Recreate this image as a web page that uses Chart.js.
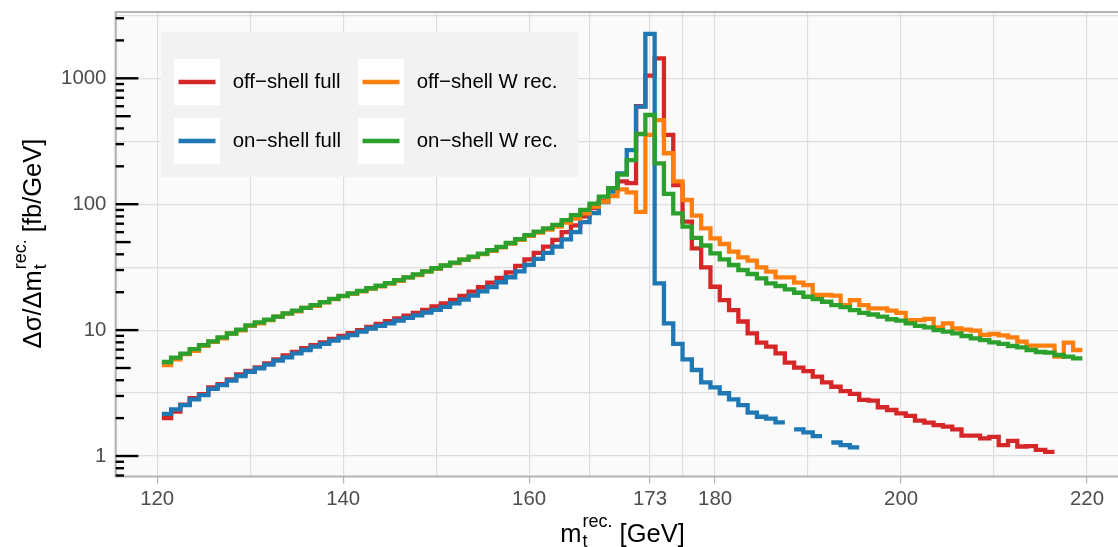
<!DOCTYPE html>
<html>
<head>
<meta charset="utf-8">
<script src="https://cdn.jsdelivr.net/npm/chart.js@4.4.1/dist/chart.umd.min.js"></script>
<style>
  html, body { margin: 0; padding: 0; background: #ffffff; }
  canvas { display: block; }
</style>
</head>
<body>
<canvas id="myChart" width="1118" height="547"></canvas>
<script>
// Bin centres of the m_t^rec. histogram (1 GeV bins, 121 ... 219)
const massBins = Array.from({ length: 99 }, (_, i) => 121 + i);
const BIN_HALF = 0.5;

// Axis limits and breaks
const X_MIN = 115.54;
const X_MAX = 223.33;
const Y_MIN = 0.6874;
const Y_MAX = 3362;
const xMajor = [120, 140, 160, 173, 180, 200, 220];
const xMinor = [130, 150, 166.5, 176.5, 190, 210];
const yMajor = [1, 10, 100, 1000];
const yMinor = [3.1623, 31.623, 316.23, 3162.3];

const seriesNames = ["off\u2212shell full", "on\u2212shell full", "off\u2212shell W rec.", "on\u2212shell W rec."];
const seriesColors = ["#d62728", "#1f77b4", "#ff7f0e", "#2ca02c"];

// dsigma/dm [fb/GeV], one value per bin (null = empty bin)
const offShellFull = [
  2.0, 2.25, 2.56, 2.88, 3.1, 3.5, 3.72, 4.05, 4.45, 4.75,
  5.05, 5.45, 5.85, 6.3, 6.7, 7.2, 7.6, 8.0, 8.5, 9.0,
  9.45, 10.0, 10.6, 11.2, 11.8, 12.4, 13.0, 13.7, 14.5, 15.4,
  16.3, 17.4, 18.7, 20.2, 21.9, 23.8, 26.0, 28.7, 32.4, 36.5,
  41, 46, 52, 60, 68, 80, 93, 106, 128, 152,
  147, 600, 1050, 1440, 355, 142, 72.6, 44.6, 31.5, 22.1,
  17.3, 14.4, 11.7, 9.42, 7.94, 7.38, 6.53, 5.51, 5.03, 4.73,
  4.27, 3.85, 3.55, 3.28, 3.11, 2.79, 2.75, 2.44, 2.32, 2.18,
  2.08, 1.91, 1.84, 1.76, 1.71, 1.63, 1.45, 1.45, 1.38, 1.42,
  1.22, 1.32, 1.19, 1.2, 1.12, 1.08, null, null, null
];
const onShellFull = [
  2.16, 2.35, 2.54, 2.82, 3.05, 3.41, 3.66, 3.97, 4.32, 4.67,
  4.97, 5.31, 5.72, 6.08, 6.54, 6.95, 7.38, 7.76, 8.24, 8.7,
  9.14, 9.72, 10.3, 10.8, 11.3, 11.9, 12.5, 13.1, 13.8, 14.5,
  15.3, 16.3, 17.5, 18.8, 20.3, 22.0, 24.0, 26.3, 29.3, 33.0,
  36.8, 41.0, 46.0, 52.5, 60.0, 72, 85, 104, 126, 176,
  269, 595, 2250, 23.5, 11.3, 7.76, 5.86, 4.82, 3.85, 3.51,
  3.15, 2.82, 2.54, 2.21, 2.05, 1.98, 1.85, null, 1.63, 1.54,
  1.44, null, 1.28, 1.22, 1.17, null, null, null, null, null,
  null, null, null, null, null, null, null, null, null, null,
  null, null, null, null, null, null, null, null, null
];
const offShellWrec = [
  5.28, 5.85, 6.45, 6.85, 7.5, 8.05, 8.6, 9.4, 9.95, 10.8,
  11.3, 12.0, 12.8, 13.5, 14.1, 15.0, 15.6, 16.6, 17.6, 18.6,
  19.4, 20.3, 21.4, 22.3, 23.4, 24.6, 26.2, 27.4, 29.2, 30.6,
  32.5, 34.0, 36.2, 38.0, 40.2, 42.7, 45.5, 48.6, 52.2, 56.0,
  59.5, 62.8, 66.5, 71.5, 77, 84.6, 95.6, 105, 116, 131,
  124, 87, 355, 466, 254, 152, 108, 81, 64.3, 53.5,
  48.3, 42.0, 37.8, 35.6, 31.5, 29.1, 26.2, 26.2, 23.8, 22.8,
  19.0, 19.0, 18.8, 15.8, 17.3, 15.8, 14.9, 14.9, 14.3, 13.7,
  12.0, 12.0, 12.3, 10.5, 11.3, 10.3, 10.1, 9.9, 9.14, 9.31,
  9.08, 8.76, 8.09, 7.52, 7.52, 7.52, 6.15, 7.94, 6.95
];
const onShellWrec = [
  5.58, 6.05, 6.5, 7.05, 7.6, 8.15, 8.75, 9.4, 10.1, 10.9,
  11.5, 12.1, 12.8, 13.6, 14.3, 15.0, 15.8, 16.7, 17.7, 18.7,
  19.6, 20.5, 21.5, 22.5, 23.6, 24.9, 26.2, 27.7, 29.3, 31.0,
  32.6, 34.3, 36.3, 38.3, 40.5, 43.2, 45.8, 49.2, 52.8, 56.9,
  60.5, 64.2, 68.4, 74.8, 82, 90, 101, 115, 134, 172,
  224, 361, 511, 211, 121, 84.6, 66.3, 54.0, 47.0, 40.7,
  36.5, 32.9, 30.0, 27.9, 25.8, 23.5, 22.4, 21.1, 19.8, 18.4,
  17.6, 16.8, 15.8, 15.2, 14.4, 13.7, 13.3, 12.8, 12.2, 11.9,
  11.3, 10.8, 10.5, 10.0, 9.72, 9.43, 8.98, 8.6, 8.34, 8.0,
  7.76, 7.48, 7.3, 6.95, 6.7, 6.62, 6.34, 6.15, 5.97
];

const FONT = "'Liberation Sans', Arial, sans-serif";

// Turn bin values into a step outline: left and right edge of every bin
function stepPoints(values) {
  const pts = [];
  massBins.forEach((m, i) => {
    const v = values[i];
    pts.push({ x: m - BIN_HALF, y: v });
    pts.push({ x: m + BIN_HALF, y: v });
  });
  return pts;
}

function makeDataset(idx, values, order) {
  return {
    label: seriesNames[idx],
    data: stepPoints(values),
    borderColor: seriesColors[idx],
    backgroundColor: seriesColors[idx],
    borderWidth: 4.3,
    pointRadius: 0,
    tension: 0,
    spanGaps: false,
    fill: false,
    order: order
  };
}

// Title with stacked sub/superscript (m_t^rec.)
function drawMassTitle(ctx, cx, baseline, angle, head, tail) {
  const big = "25.5px " + FONT;
  const small = "18px " + FONT;
  ctx.save();
  ctx.translate(cx, baseline);
  ctx.rotate(angle);
  ctx.fillStyle = "#000000";
  ctx.textAlign = "left";
  ctx.textBaseline = "alphabetic";
  ctx.font = big;
  const wHead = ctx.measureText(head).width;
  const wTail = ctx.measureText(tail).width;
  ctx.font = small;
  const wScript = Math.max(ctx.measureText("rec.").width, ctx.measureText("t").width);
  let x = -(wHead + wScript + wTail) / 2;
  ctx.font = big;
  ctx.fillText(head, x, 0);
  x += wHead;
  ctx.font = small;
  ctx.fillText("rec.", x + 1, -15);
  ctx.fillText("t", x + 1, 5);
  x += wScript + 1;
  ctx.font = big;
  ctx.fillText(tail, x, 0);
  ctx.restore();
}

function drawLegend(chart) {
  const ctx = chart.ctx;
  const keyX = [174, 358];
  const keyY = [59, 118];
  const KEY = 46;
  ctx.save();
  ctx.fillStyle = "#f2f2f2";
  ctx.fillRect(161, 32, 417, 145);
  ctx.font = "20.4px " + FONT;
  ctx.textBaseline = "middle";
  ctx.textAlign = "left";
  seriesNames.forEach((name, i) => {
    const kx = keyX[Math.floor(i / 2)];
    const ky = keyY[i % 2];
    ctx.fillStyle = "#ffffff";
    ctx.fillRect(kx, ky, KEY, KEY);
    ctx.strokeStyle = seriesColors[i];
    ctx.lineWidth = 4.3;
    ctx.beginPath();
    ctx.moveTo(kx + 4.5, ky + KEY / 2);
    ctx.lineTo(kx + KEY - 4.5, ky + KEY / 2);
    ctx.stroke();
    ctx.fillStyle = "#000000";
    ctx.fillText(name, kx + 58.7, ky + KEY / 2);
  });
  ctx.restore();
}

const panelDecor = {
  id: "panelDecor",
  beforeDraw(chart) {
    const { ctx, chartArea: a } = chart;
    ctx.save();
    ctx.fillStyle = "#ffffff";
    ctx.fillRect(0, 0, chart.width, chart.height);
    ctx.fillStyle = "#fafafa";
    ctx.fillRect(a.left, a.top, a.right - a.left, a.bottom - a.top);
    ctx.restore();
  },
  afterDatasetsDraw(chart) {
    const { ctx, chartArea: a } = chart;
    const yScale = chart.scales.y;
    ctx.save();
    // panel border (right side is cut off by the picture)
    ctx.strokeStyle = "#b3b3b3";
    ctx.lineWidth = 2.2;
    ctx.beginPath();
    ctx.moveTo(a.right + 5, a.top);
    ctx.lineTo(a.left, a.top);
    ctx.lineTo(a.left, a.bottom);
    ctx.lineTo(a.right + 5, a.bottom);
    ctx.stroke();
    // log ticks along the left side
    ctx.strokeStyle = "#000000";
    ctx.lineWidth = 2.4;
    [0.1, 1, 10, 100, 1000].forEach((decade) => {
      for (let k = 1; k <= 9; k++) {
        const v = k * decade;
        if (v < Y_MIN || v > Y_MAX) continue;
        const len = k === 1 ? 22.7 : k === 5 ? 15 : 8.3;
        const y = yScale.getPixelForValue(v);
        ctx.beginPath();
        ctx.moveTo(a.left, y);
        ctx.lineTo(a.left + len, y);
        ctx.stroke();
      }
    });
    ctx.restore();
  },
  afterDraw(chart) {
    drawLegend(chart);
    drawMassTitle(chart.ctx, 622, 542, 0, "m", " [GeV]");
    drawMassTitle(chart.ctx, 41, 244, -Math.PI / 2, "\u0394\u03c3/\u0394m", " [fb/GeV]");
  }
};

const ctx = document.getElementById("myChart").getContext("2d");

const myChart = new Chart(ctx, {
  type: "line",
  data: {
    datasets: [
      makeDataset(0, offShellFull, 4),
      makeDataset(1, onShellFull, 3),
      makeDataset(2, offShellWrec, 2),
      makeDataset(3, onShellWrec, 1)
    ]
  },
  options: {
    responsive: false,
    animation: false,
    events: [],
    layout: { padding: { top: 12, left: 0, right: 0, bottom: 0 } },
    plugins: {
      legend: { display: false },
      tooltip: { enabled: false },
      title: { display: false }
    },
    scales: {
      x: {
        type: "linear",
        min: X_MIN,
        max: X_MAX,
        afterBuildTicks: (scale) => {
          scale.ticks = xMajor.concat(xMinor).sort((p, q) => p - q).map((v) => ({ value: v }));
        },
        afterFit: (scale) => {
          scale.height = 70.5;
          scale.paddingLeft = 0;
          scale.paddingRight = 0;
        },
        border: { display: false },
        grid: {
          color: "#dedede",
          lineWidth: 1.2,
          drawTicks: true,
          tickLength: 7,
          tickWidth: 1.2,
          tickColor: (c) => (c.tick && xMajor.includes(c.tick.value) ? "#b3b3b3" : "rgba(0,0,0,0)")
        },
        ticks: {
          autoSkip: false,
          maxRotation: 0,
          minRotation: 0,
          padding: 3.3,
          color: "#4d4d4d",
          font: { family: FONT, size: 20.4 },
          callback: (value) => (xMajor.includes(value) ? String(value) : "")
        }
      },
      y: {
        type: "logarithmic",
        min: Y_MIN,
        max: Y_MAX,
        afterBuildTicks: (scale) => {
          scale.ticks = yMajor.concat(yMinor).sort((p, q) => p - q).map((v) => ({ value: v }));
        },
        afterFit: (scale) => {
          scale.width = 115.7;
          scale.paddingTop = 0;
          scale.paddingBottom = 0;
        },
        border: { display: false },
        grid: {
          color: "#dedede",
          lineWidth: 1.2,
          drawTicks: false
        },
        ticks: {
          autoSkip: false,
          padding: 9.3,
          color: "#4d4d4d",
          font: { family: FONT, size: 20.4 },
          callback: (value) => (yMajor.includes(value) ? String(value) : "")
        }
      }
    }
  },
  plugins: [panelDecor]
});
</script>
</body>
</html>
